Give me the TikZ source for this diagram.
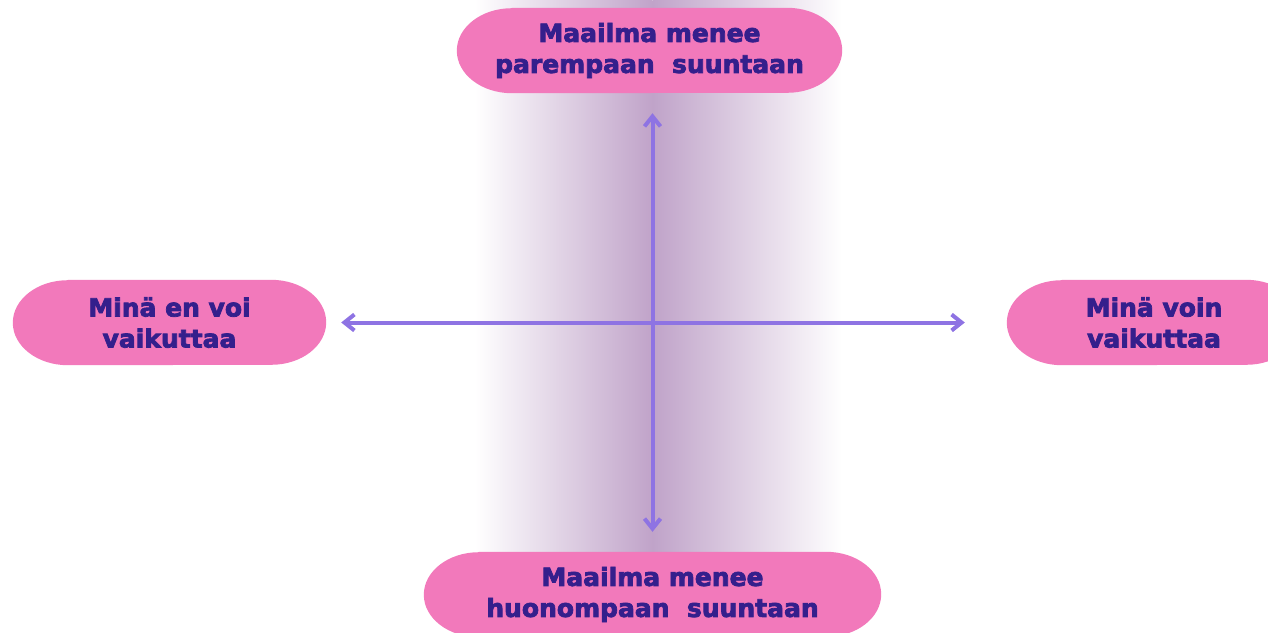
\documentclass[tikz,border=0pt]{standalone}
\usepackage{fontspec}
\setmainfont{DejaVu Sans}[BoldFeatures={FakeBold=3}]
\usetikzlibrary{arrows.meta}
\definecolor{pinkfill}{RGB}{242,121,187}
\definecolor{textc}{RGB}{52,31,140}
\definecolor{arrowc}{RGB}{142,115,227}
\definecolor{bandc}{RGB}{192,163,201}
\pgfdeclarelayer{bg}
\pgfsetlayers{bg,main}
\newcommand{\pillfill}[1]{%
  \fill[pinkfill] ([xshift=55pt]#1.north west) -- ([xshift=-55pt]#1.north east)
    arc[start angle=90, end angle=-90, x radius=55pt, y radius=42.5pt]
    -- ([xshift=55pt]#1.south west)
    arc[start angle=270, end angle=90, x radius=55pt, y radius=42.5pt] -- cycle;}
\begin{document}
\begin{tikzpicture}[x=1pt,y=-1pt,
  pill/.style={rectangle, text=textc,
    font=\bfseries\fontsize{25}{31}\selectfont, align=center,
    minimum height=85pt, inner sep=0pt},
  axisline/.style={draw=arrowc, line width=4pt,
    {Straight Barb[length=10pt,width=16pt]}-{Straight Barb[length=10pt,width=16pt]}}]
\useasboundingbox (0,0) rectangle (1268,632);
\clip (0,0) rectangle (1268,632);
\node[pill, minimum width=385pt] (top) at (649.5,50.5) {Maailma menee\\parempaan\ \ suuntaan};
\node[pill, minimum width=457pt] (bottom) at (652.5,594.5) {Maailma menee\\huonompaan\ \ suuntaan};
\node[pill, minimum width=313pt] (left) at (169.5,322.5) {Minä en voi\\vaikuttaa};
\node[pill, minimum width=294pt] (right) at (1154,322.5) {Minä voin\\vaikuttaa};
\begin{pgfonlayer}{bg}
\shade[left color=white, right color=bandc] (475,0) rectangle (652.5,632);
\shade[left color=bandc, right color=white] (652.5,0) rectangle (842,632);
\pillfill{top}
\pillfill{bottom}
\pillfill{left}
\pillfill{right}
\end{pgfonlayer}
\draw[axisline, shorten <=20pt, shorten >=20pt] (bottom.north |- top.south) -- (bottom.north);
\draw[axisline, shorten <=15pt, shorten >=42pt] (left) -- (right);
\end{tikzpicture}
\end{document}
